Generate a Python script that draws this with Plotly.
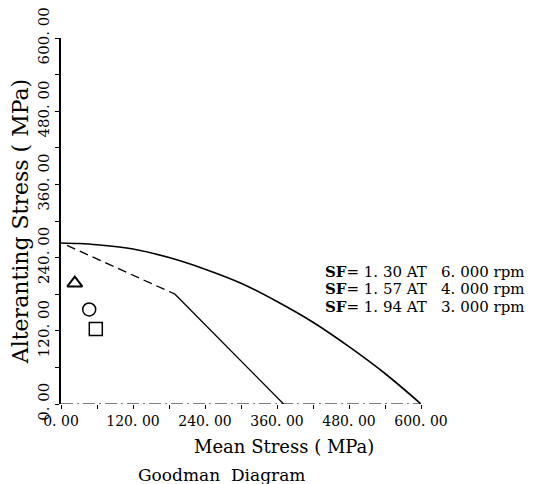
import plotly.graph_objects as go

# Gerber-type failure curve
curve_sm = [0, 30, 60, 120, 180, 240, 300, 360, 420, 480, 540, 600]
curve_sa = [264, 263, 261, 254, 240, 221, 198, 168, 134, 94, 50, 0]

# Goodman line (dashed) up to the yield-line intersection
goodman_sm = [10, 190]
goodman_sa = [260, 180]

# Yield line (solid)
yield_sm = [190, 371]
yield_sa = [180, 0]

# Operating points
pt_names = ["6000 rpm", "4000 rpm", "3000 rpm"]
pt_sm = [23, 47, 58]
pt_sa = [198, 155, 123]
pt_symbols = ["triangle-up-open", "circle-open", "square-open"]

tick_vals = [0, 60, 120, 180, 240, 300, 360, 420, 480, 540, 600]
tick_text = ["0. 00", "", "120. 00", "", "240. 00", "", "360. 00", "", "480. 00", "", "600. 00"]

sf_labels = [
    "<b>SF</b>= 1. 30 AT\u00a0\u00a0 6. 000 rpm",
    "<b>SF</b>= 1. 57 AT\u00a0\u00a0 4. 000 rpm",
    "<b>SF</b>= 1. 94 AT\u00a0\u00a0 3. 000 rpm",
]

FONT = "DejaVu Serif"

fig = go.Figure()
fig.add_trace(go.Scatter(x=curve_sm, y=curve_sa, mode="lines",
                         line=dict(color="black", width=1.6, shape="spline"),
                         showlegend=False, hoverinfo="skip"))
fig.add_trace(go.Scatter(x=goodman_sm, y=goodman_sa, mode="lines",
                         line=dict(color="black", width=1.3, dash="9px,5px"),
                         showlegend=False, hoverinfo="skip"))
fig.add_trace(go.Scatter(x=yield_sm, y=yield_sa, mode="lines",
                         line=dict(color="black", width=1.3),
                         showlegend=False, hoverinfo="skip"))
for n, xs, ys, s in zip(pt_names, pt_sm, pt_sa, pt_symbols):
    fig.add_trace(go.Scatter(x=[xs], y=[ys], mode="markers", name=n,
                             marker=dict(symbol=s, size=13, color="black",
                                         line=dict(color="black", width=2 if "triangle" in s else 1.5)),
                             showlegend=False))

# dashed-looking x axis baseline (as in the scanned original)
fig.add_shape(type="line", xref="x", yref="y", x0=0, x1=600, y0=0, y1=0,
              line=dict(color="black", width=1.2, dash="12px,4px,2px,4px"))

ys_sf = [0.361, 0.313, 0.265]
for t, yy in zip(sf_labels, ys_sf):
    fig.add_annotation(text=t, xref="paper", yref="paper", x=0.728, y=yy,
                       xanchor="left", yanchor="middle", showarrow=False,
                       font=dict(family=FONT, size=15, color="black"))

# x-axis title (placed right of centre, as in the original)
fig.add_annotation(text="Mean Stress ( MPa)", xref="paper", yref="paper",
                   x=0.619, y=-0.115, xanchor="center", yanchor="middle",
                   showarrow=False, font=dict(family=FONT, size=18, color="black"))

fig.add_annotation(text="Goodman\u00a0 Diagram", xref="paper", yref="paper",
                   x=0.447, y=-0.195, xanchor="center", yanchor="middle",
                   showarrow=False, font=dict(family=FONT, size=17, color="black"))

fig.update_layout(
    width=526, height=476,
    margin=dict(l=53, r=113, t=30, b=80),
    paper_bgcolor="white", plot_bgcolor="white",
    font=dict(family=FONT, color="black"),
    xaxis=dict(range=[0, 600], tickvals=tick_vals, ticktext=tick_text,
               ticks="outside", ticklen=4, tickcolor="black", showline=False,
               showgrid=False, zeroline=False, automargin=False,
               ticklabeloverflow="allow",
               tickfont=dict(family=FONT, size=14)),
    yaxis=dict(range=[0, 600], tickvals=tick_vals, ticktext=tick_text,
               ticks="outside", ticklen=4, tickcolor="black", showline=True,
               linecolor="black", linewidth=1.5,
               showgrid=False, zeroline=False, automargin=False,
               ticklabeloverflow="allow",
               tickangle=-90,
               tickfont=dict(family=FONT, size=15),
               title=dict(text="Alteranting Stress ( MPa)", standoff=2,
                          font=dict(family=FONT, size=22))),
)

fig.write_html("out.html")
